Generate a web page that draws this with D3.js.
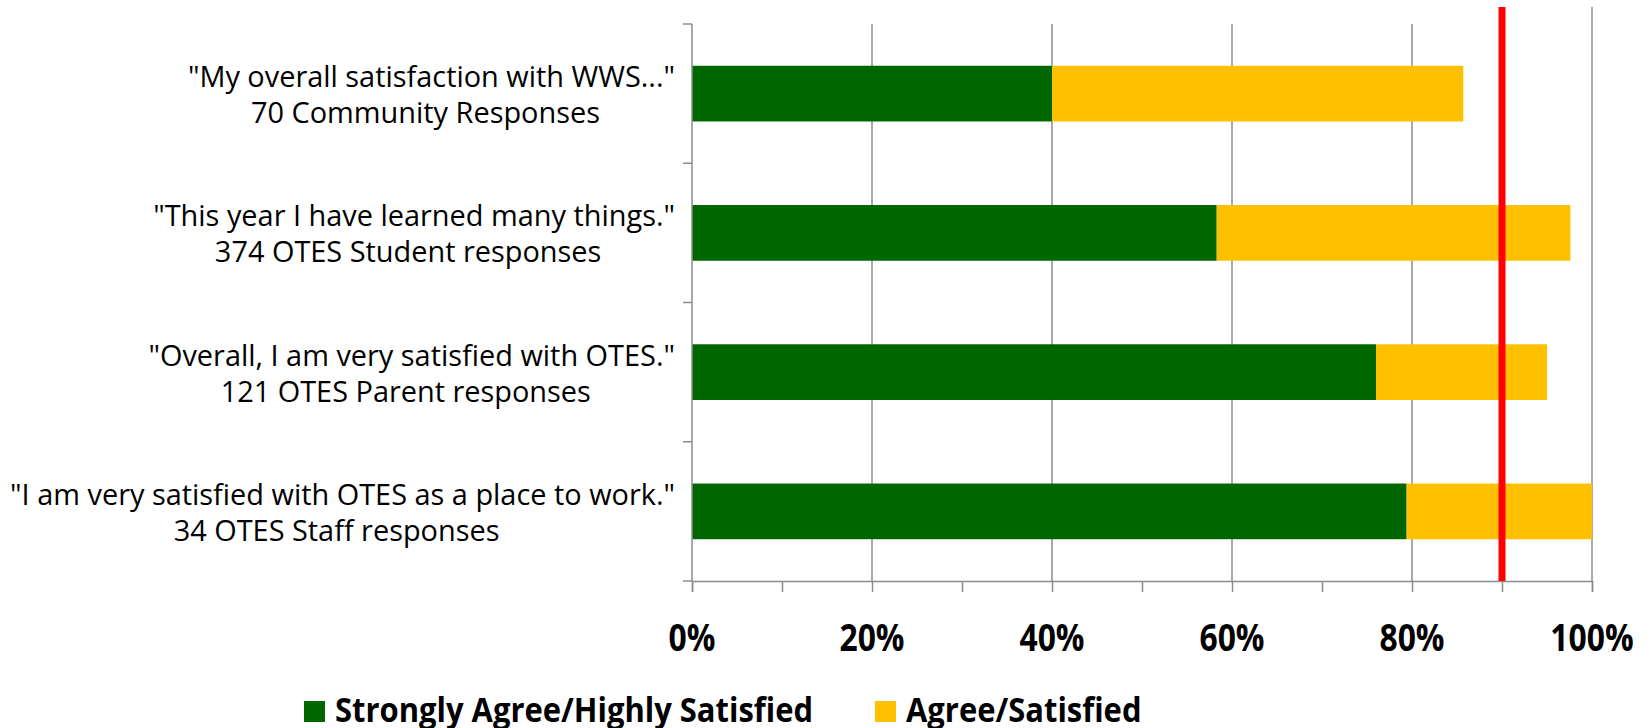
<!DOCTYPE html>
<html>
<head>
<meta charset="utf-8">
<script src="https://cdn.jsdelivr.net/npm/d3@7"></script>
<style>
  body { margin: 0; background: #fff; }
  text { font-family: "Open Sans", "Noto Sans", sans-serif; fill: #000; }
</style>
</head>
<body>
<div id="chart"></div>
<script>
// Survey questions (line 1) and who answered (line 2)
var questions = [
  "\"My overall satisfaction with WWS...\"",
  "\"This year I have learned many things.\"",
  "\"Overall, I am very satisfied with OTES.\"",
  "\"I am very satisfied with OTES as a place to work.\""
];
var respondents = [
  "70 Community Responses",
  "374 OTES Student responses",
  "121 OTES Parent responses",
  "34 OTES Staff responses"
];

// Shares of responses, in percent
var stronglyAgree = [40, 58.3, 76.0, 79.4];
var agree = [45.7, 39.3, 19.0, 20.6];

var seriesNames = ["Strongly Agree/Highly Satisfied", "Agree/Satisfied"];
var seriesColors = ["#006600", "#FFC000"];

var xTicks = [0, 20, 40, 60, 80, 100];
var target = 90;

// SVG area
var svgWidth = 1652;
var svgHeight = 728;

var margin = { top: 24, right: 60, bottom: 147, left: 692 };
var chartWidth = svgWidth - margin.left - margin.right;
var chartHeight = svgHeight - margin.top - margin.bottom;

var svg = d3.select("#chart")
  .append("svg")
  .attr("width", svgWidth)
  .attr("height", svgHeight);

var chartGroup = svg.append("g")
  .attr("transform", `translate(${margin.left}, ${margin.top})`);

// squeeze Open Sans so it takes the room of the narrower original font
function condense(sel, k) {
  sel.each(function() {
    var w = this.getComputedTextLength();
    d3.select(this)
      .attr("textLength", w * k)
      .attr("lengthAdjust", "spacingAndGlyphs");
  });
}

// Scales
var xScale = d3.scaleLinear()
  .domain([0, 100])
  .range([0, chartWidth]);

var yScale = d3.scaleBand()
  .domain(questions)
  .range([0, chartHeight])
  .paddingInner(0.6)
  .paddingOuter(0.3);

// Vertical gridlines (the last one runs up to the top of the plot frame)
chartGroup.selectAll(".grid")
  .data(xTicks.slice(1))
  .enter()
  .append("line")
  .attr("x1", d => xScale(d))
  .attr("x2", d => xScale(d))
  .attr("y1", d => d === 100 ? -17 : 0)
  .attr("y2", chartHeight)
  .attr("stroke", "#8c8c8c")
  .attr("stroke-width", 1.5);

// Stack the two series
var rows = questions.map((q, i) => ({ q: q, a: stronglyAgree[i], b: agree[i] }));
var stacked = d3.stack().keys(["a", "b"])(rows);

chartGroup.selectAll(".series")
  .data(stacked)
  .enter()
  .append("g")
  .attr("fill", (d, i) => seriesColors[i])
  .selectAll("rect")
  .data(d => d)
  .enter()
  .append("rect")
  .attr("x", d => xScale(d[0]))
  .attr("y", d => yScale(d.data.q))
  .attr("width", d => xScale(d[1]) - xScale(d[0]))
  .attr("height", yScale.bandwidth());

// Category axis (ticks between categories, pointing left)
var boundaries = d3.range(questions.length + 1).map(i => i * chartHeight / questions.length);
chartGroup.append("line")
  .attr("x1", 0).attr("x2", 0)
  .attr("y1", 0).attr("y2", chartHeight)
  .attr("stroke", "#8c8c8c")
  .attr("stroke-width", 1.5);
chartGroup.selectAll(".ytick")
  .data(boundaries)
  .enter()
  .append("line")
  .attr("x1", -9).attr("x2", 0)
  .attr("y1", d => d).attr("y2", d => d)
  .attr("stroke", "#8c8c8c")
  .attr("stroke-width", 1.5);

// Value axis
var bottomAxis = d3.axisBottom(xScale)
  .tickValues(d3.range(0, 101, 10))
  .tickSize(11)
  .tickFormat("");

var axisG = chartGroup.append("g")
  .attr("transform", `translate(0, ${chartHeight})`)
  .call(bottomAxis);
axisG.select(".domain").attr("stroke", "#8c8c8c").attr("stroke-width", 1.5);
axisG.selectAll(".tick line").attr("stroke", "#8c8c8c").attr("stroke-width", 1.5);

var xLabels = chartGroup.selectAll(".xlabel")
  .data(xTicks)
  .enter()
  .append("text")
  .attr("x", d => xScale(d))
  .attr("y", chartHeight + 55)
  .attr("text-anchor", "middle")
  .attr("dominant-baseline", "central")
  .style("font-size", "37px")
  .style("font-weight", "bold")
  .text(d => d + "%");
condense(xLabels, 0.86);

// Target line at 90%
chartGroup.append("line")
  .attr("x1", xScale(target)).attr("x2", xScale(target))
  .attr("y1", -17).attr("y2", chartHeight)
  .attr("stroke", "#ff0000")
  .attr("stroke-width", 7);

// Question labels: two centred lines, block right-aligned to the axis
var labelRight = -17;
var k = 0.963;
questions.forEach(function(q, i) {
  var cy = yScale(q) + yScale.bandwidth() / 2;
  var t1 = chartGroup.append("text")
    .attr("x", labelRight)
    .attr("y", cy - 18)
    .attr("text-anchor", "end")
    .attr("dominant-baseline", "central")
    .style("font-size", "30px")
    .text(q);
  var w = t1.node().getComputedTextLength() * k;
  condense(t1, k);
  var t2 = chartGroup.append("text")
    .attr("x", labelRight - w / 2 - 6)
    .attr("y", cy + 18)
    .attr("text-anchor", "middle")
    .attr("dominant-baseline", "central")
    .style("font-size", "30px")
    .text(respondents[i]);
  condense(t2, k);
});

// Legend
var legendX = [304, 875];
var legend = svg.selectAll(".legend")
  .data(seriesNames)
  .enter()
  .append("g")
  .attr("transform", (d, i) => `translate(${legendX[i]}, 701)`);
legend.append("rect")
  .attr("width", 21)
  .attr("height", 21)
  .attr("fill", (d, i) => seriesColors[i]);
var legendText = legend.append("text")
  .attr("x", 31)
  .attr("y", 21)
  .style("font-size", "34px")
  .style("font-weight", "bold")
  .text(d => d);
condense(legendText, 0.91);
</script>
</body>
</html>
